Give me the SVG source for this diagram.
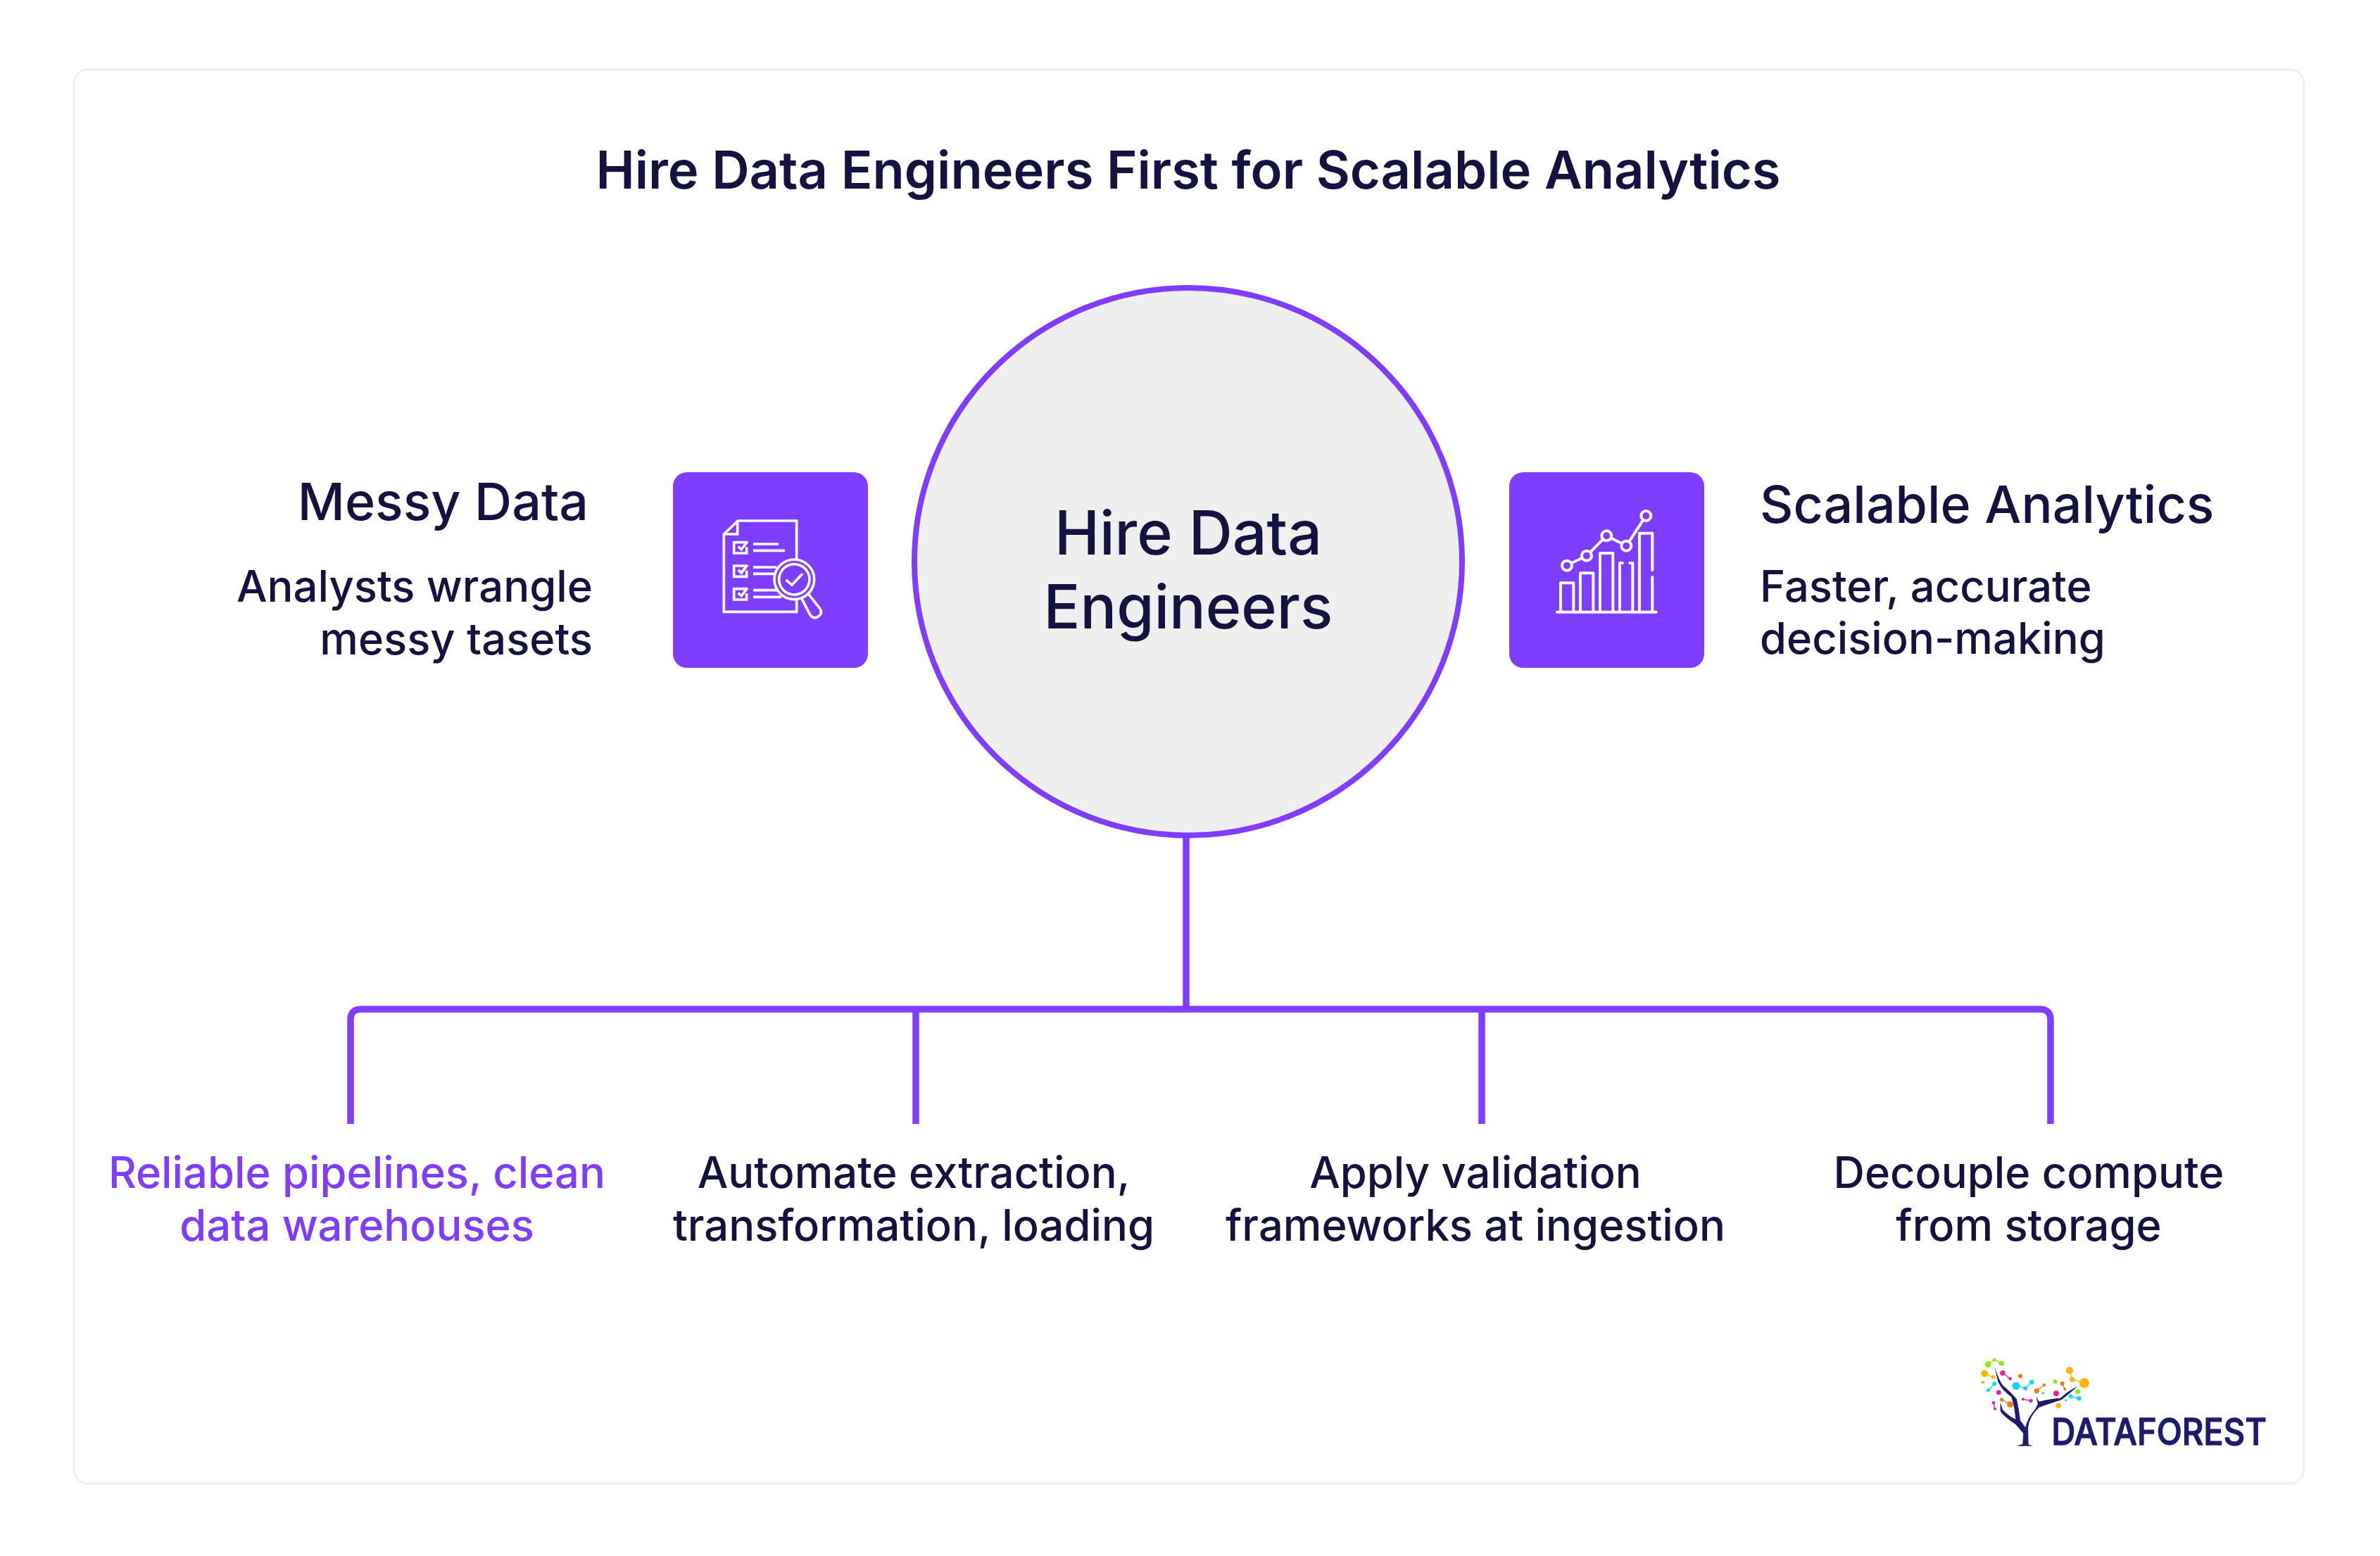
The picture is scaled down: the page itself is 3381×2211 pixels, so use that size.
<svg xmlns="http://www.w3.org/2000/svg" width="3381" height="2211" viewBox="0 0 3381 2211">
<style>
text{font-family:"Inter","Liberation Sans",sans-serif;fill:#14123f}
.t{font-size:74px;font-weight:600;text-anchor:middle}
.c{font-size:86px;font-weight:500;text-anchor:middle}
.h{font-size:73.5px;font-weight:500}
.b{font-size:61.5px;font-weight:500}
.m{text-anchor:middle}
.e{text-anchor:end}
.s{text-anchor:start}
.box{fill:#7f3dff}
.ic{fill:none;stroke:#fff;stroke-width:4;stroke-linecap:round;stroke-linejoin:round}
.ln{fill:none;stroke:#7f3dff;stroke-width:9.5}
.tr{fill:#1e1a6e}
</style>
<rect id="card" x="105" y="99" width="3168" height="2009" rx="20" fill="#fff" stroke="#eeeeee" stroke-width="2.5"/>
<text id="title" class="t" x="1688" y="268">Hire Data Engineers First for Scalable Analytics</text>
<g id="connectors">
<path class="ln" d="M1685 1185V1434"/>
<path class="ln" d="M498 1597V1449Q498 1434 513 1434H2898Q2913 1434 2913 1449V1597"/>
<path class="ln" d="M1301 1434V1597"/>
<path class="ln" d="M2105 1434V1597"/>
</g>
<g id="center">
<circle cx="1688" cy="798" r="389" fill="#efefef" stroke="#7f3dff" stroke-width="8"/>
<text class="c" x="1688" y="788">Hire Data</text>
<text class="c" x="1688" y="893">Engineers</text>
</g>
<g id="messy-data">
<text class="h e" x="836" y="739">Messy Data</text>
<text class="b e" x="842" y="855">Analysts wrangle</text>
<text class="b e" x="842" y="930">messy tasets</text>
</g>
<g id="icon-left">
<rect class="box" x="956" y="671" width="277" height="278" rx="20"/>
<g transform="translate(940 660) scale(.3333)">
<g class="ic" style="stroke-width:11;stroke-linecap:butt;stroke-linejoin:miter">
<path d="M575 405V240H325L265 297V628H575V580"/>
<path d="M265 297H323V240"/>
<path d="M365 332H308V378H362V352"/><path d="M326 350L340 362L366 328"/>
<path d="M365 432H308V478H362V452"/><path d="M326 450L340 462L366 428"/>
<path d="M365 530H308V576H362V550"/><path d="M326 548L340 560L366 526"/>
<path d="M390 339H498M390 367H525M390 438H490M390 466H480M390 536H490M390 565H510"/>
<circle cx="565" cy="490" r="85"/>
<circle cx="565" cy="490" r="65"/>
<path d="M530 492L555 514L600 466"/>
<path d="M597 572L632 640Q645 660 665 650Q688 635 675 615L625 552"/>
</g>
</g>
</g>
<g id="icon-right">
<rect class="box" x="2144" y="671" width="277" height="278" rx="20"/>
<g transform="translate(2130 660) scale(.3333)">
<g class="ic" style="stroke-width:12">
<path d="M246 629H668"/>
<path d="M261 625V505H316V625"/>
<path d="M345 625V463H400V625"/>
<path d="M429 625V378H484V625"/>
<path d="M513 625V420H525M556 420H568V625"/>
<path d="M597 625V293H652V450M652 480V625"/>
<circle cx="288" cy="431" r="21"/><circle cx="372" cy="389" r="21"/><circle cx="457" cy="304" r="21"/><circle cx="541" cy="347" r="21"/><circle cx="625" cy="219" r="21"/>
<path d="M308 420L352 399M388 373L441 320M476 314L522 337M553 329L612 238"/>
</g>
</g>
</g>
<g id="scalable-analytics">
<text class="h s" x="2500" y="743">Scalable Analytics</text>
<text class="b s" x="2500" y="855">Faster, accurate</text>
<text class="b s" x="2500" y="929">decision-making</text>
</g>
<g id="item-1">
<text class="b m" x="507" y="1688" style="fill:#7f3dff">Reliable pipelines, clean</text>
<text class="b m" x="507" y="1763" style="fill:#7f3dff">data warehouses</text>
</g>
<g id="item-2">
<text class="b m" x="1298" y="1688">Automate extraction,</text>
<text class="b m" x="1298" y="1763">transformation, loading</text>
</g>
<g id="item-3">
<text class="b m" x="2096" y="1688">Apply validation</text>
<text class="b m" x="2096" y="1763">frameworks at ingestion</text>
</g>
<g id="item-4">
<text class="b m" x="2882" y="1688">Decouple compute</text>
<text class="b m" x="2882" y="1763">from storage</text>
</g>
<g id="logo" transform="translate(2780 1900) scale(.3333)">
<path class="tr" d="M160 125Q178 180 195 205Q235 240 255 265Q265 310 270 355L292 385Q300 345 335 305L345 285L337 252L350 275Q400 262 440 260Q480 225 515 210Q480 240 445 268Q390 285 350 300Q310 335 303 385L305 458L325 464H255L280 455L283 410L250 372Q195 335 185 315V278L195 310Q225 340 250 350Q245 290 232 255Q190 225 175 190Z"/>
<g fill="none" stroke-width="4">
<path stroke="#8fe619" d="M133 116L160 97L190 112"/>
<path stroke="#ffb400" d="M118 155L155 170M480 142L491 180L543 196"/>
<path stroke="#e81ea0" d="M195 153L227 177M282 265L315 271M156 280L162 306"/>
<path stroke="#19d6f0" d="M133 226L160 199M252 208L292 218L319 192M485 253L520 261"/>
<path stroke="#f57c14" d="M340 229L372 204M449 198L460 222M191 267L227 287"/>
</g>
<g fill="#8fe619"><circle cx="133" cy="116" r="13"/><circle cx="160" cy="97" r="7"/><circle cx="190" cy="112" r="11"/><circle cx="110" cy="192" r="7"/><circle cx="419" cy="190" r="9"/><circle cx="515" cy="232" r="10"/></g>
<g fill="#ffb400"><circle cx="118" cy="155" r="15"/><circle cx="155" cy="170" r="8"/><circle cx="480" cy="142" r="15"/><circle cx="491" cy="180" r="11"/><circle cx="543" cy="196" r="21"/><circle cx="433" cy="292" r="11"/></g>
<g fill="#e81ea0"><circle cx="195" cy="153" r="11"/><circle cx="227" cy="177" r="7"/><circle cx="178" cy="236" r="10"/><circle cx="423" cy="240" r="12"/><circle cx="282" cy="265" r="6"/><circle cx="315" cy="271" r="8"/><circle cx="156" cy="280" r="7"/><circle cx="162" cy="306" r="6"/></g>
<g fill="#19d6f0"><circle cx="133" cy="226" r="8"/><circle cx="160" cy="199" r="9"/><circle cx="252" cy="208" r="17"/><circle cx="292" cy="218" r="9"/><circle cx="319" cy="192" r="10"/><circle cx="367" cy="239" r="5"/><circle cx="485" cy="253" r="9"/><circle cx="520" cy="261" r="10"/><circle cx="464" cy="269" r="5"/></g>
<g fill="#f57c14"><circle cx="270" cy="166" r="9"/><circle cx="340" cy="229" r="11"/><circle cx="372" cy="204" r="7"/><circle cx="449" cy="198" r="9"/><circle cx="460" cy="222" r="6"/><circle cx="191" cy="267" r="8"/><circle cx="227" cy="287" r="13"/></g>
<text x="403" y="459" textLength="917" lengthAdjust="spacingAndGlyphs" style="font-size:155px;font-weight:500;fill:#1e1a6e;stroke:#1e1a6e;stroke-width:4;stroke-linejoin:round">DATAFOREST</text>
</g>
</svg>
